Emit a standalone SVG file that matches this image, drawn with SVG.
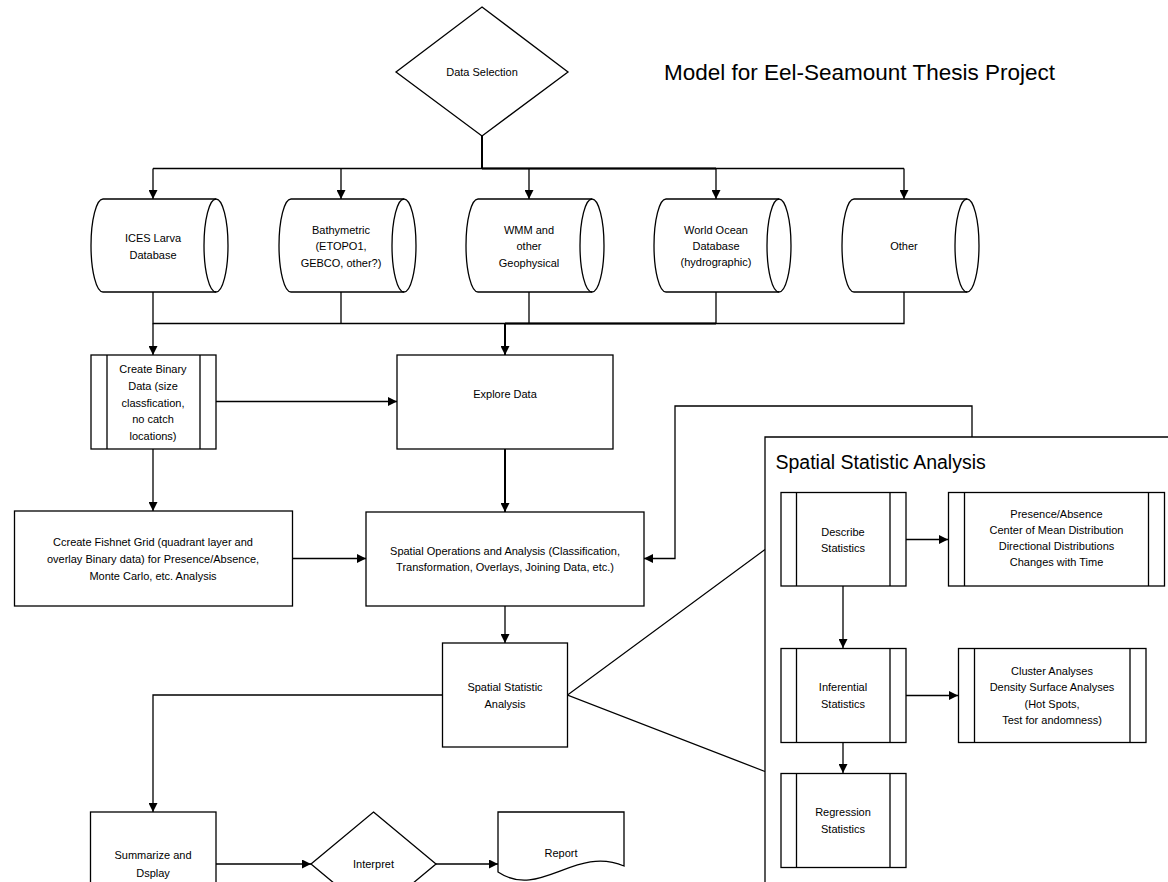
<svg xmlns="http://www.w3.org/2000/svg" width="1168" height="882" viewBox="0 0 1168 882">
<style>
.n{fill:#fff;stroke:#000;stroke-width:1.3}
.l{fill:none;stroke:#000;stroke-width:1.3}
.t{font-family:"Liberation Sans",Arial,sans-serif;font-size:11px;fill:#000;text-anchor:middle}
.c{fill:none;stroke:#000;stroke-width:1.3}
.k{stroke-width:2}
.a{marker-end:url(#ah)}
</style>
<defs>
<marker id="ah" markerUnits="userSpaceOnUse" markerWidth="10" markerHeight="9" refX="9" refY="4.5" orient="auto">
<path d="M0,0 L9,4.5 L0,9 Z" fill="#000"/>
</marker>
</defs>
<rect width="1168" height="882" fill="#fff"/>

<text x="664" y="80" font-family="Liberation Sans,Arial,sans-serif" font-size="22.5" fill="#000">Model for Eel-Seamount Thesis Project</text>

<g id="connectors">
<path class="c k" d="M482,136 V168.5"/>
<path class="c" d="M153,168.5 H904"/>
<path class="c k" d="M482,168.5 H716"/>
<path class="c a" d="M153,168.5 V199"/>
<path class="c a" d="M341,168.5 V199"/>
<path class="c a" d="M529,168.5 V199"/>
<path class="c a" d="M716,168.5 V199"/>
<path class="c a" d="M904,168.5 V199"/>
<path class="c" d="M153,292 V323.5 H904 V292"/>
<path class="c" d="M341,292 V323.5"/>
<path class="c" d="M529,292 V323.5"/>
<path class="c" d="M716,292 V323.5"/>
<path class="c k" d="M505,323.5 H716"/>
<path class="c a" d="M153,323.5 V355"/>
<path class="c k a" d="M505,323.5 V355"/>
<path class="c a" d="M216,401.5 H397"/>
<path class="c k a" d="M505,449 V512"/>
<path class="c a" d="M153,449 V511"/>
<path class="c a" d="M292,558.5 H366"/>
<path class="c a" d="M972,437 V406 H675 V558.5 H644"/>
<path class="c a" d="M505,606 V643"/>
<path class="c a" d="M442.5,695 H153 V812"/>
<path class="c" d="M765,549.5 L567.5,695 L765,771.5"/>
<path class="c a" d="M216,864 H311"/>
<path class="c a" d="M436,864 H498"/>
<path class="c a" d="M906,539.5 H948"/>
<path class="c a" d="M843,586 V648"/>
<path class="c a" d="M906,695.5 H958"/>
<path class="c a" d="M843,742 V773"/>
</g>

<g id="data-selection">
<path class="n" d="M482,7 L568,72 L482,136 L396,72 Z"/>
<text class="t" x="482" y="76">Data Selection</text>
</g>

<g id="ices">
<path class="n" d="M103,199 H216 A12,46.5 0 0 1 216,292 H103 A12,46.5 0 0 1 103,199 Z"/>
<path class="l" d="M216,199 A12,46.5 0 0 0 216,292"/>
<text class="t" x="153" y="241.5">ICES Larva</text>
<text class="t" x="153" y="258.5">Database</text>
</g>

<g id="bathymetric">
<path class="n" d="M291,199 H404 A12,46.5 0 0 1 404,292 H291 A12,46.5 0 0 1 291,199 Z"/>
<path class="l" d="M404,199 A12,46.5 0 0 0 404,292"/>
<text class="t" x="341" y="234">Bathymetric</text>
<text class="t" x="341" y="250">(ETOPO1,</text>
<text class="t" x="341" y="266.5">GEBCO, other?)</text>
</g>

<g id="wmm">
<path class="n" d="M478,199 H592 A12,46.5 0 0 1 592,292 H478 A12,46.5 0 0 1 478,199 Z"/>
<path class="l" d="M592,199 A12,46.5 0 0 0 592,292"/>
<text class="t" x="529" y="234">WMM and</text>
<text class="t" x="529" y="250">other</text>
<text class="t" x="529" y="266.5">Geophysical</text>
</g>

<g id="world-ocean">
<path class="n" d="M666,199 H779 A12,46.5 0 0 1 779,292 H666 A12,46.5 0 0 1 666,199 Z"/>
<path class="l" d="M779,199 A12,46.5 0 0 0 779,292"/>
<text class="t" x="716" y="234">World Ocean</text>
<text class="t" x="716" y="250">Database</text>
<text class="t" x="716" y="266">(hydrographic)</text>
</g>

<g id="other">
<path class="n" d="M854,199 H967 A12,46.5 0 0 1 967,292 H854 A12,46.5 0 0 1 854,199 Z"/>
<path class="l" d="M967,199 A12,46.5 0 0 0 967,292"/>
<text class="t" x="904" y="250">Other</text>
</g>

<g id="create-binary">
<rect class="n" x="91" y="355" width="125" height="94"/>
<path class="l" d="M107,355 V449 M200,355 V449"/>
<text class="t" x="153" y="373">Create Binary</text>
<text class="t" x="153" y="390">Data (size</text>
<text class="t" x="153" y="407">classfication,</text>
<text class="t" x="153" y="423">no catch</text>
<text class="t" x="153" y="440">locations)</text>
</g>

<g id="explore-data">
<rect class="n" x="397" y="355" width="216" height="94"/>
<text class="t" x="505" y="398">Explore Data</text>
</g>

<g id="fishnet">
<rect class="n" x="14.5" y="511" width="278" height="95"/>
<text class="t" x="153" y="546">Ccreate Fishnet Grid (quadrant layer and</text>
<text class="t" x="153" y="563">overlay Binary data) for Presence/Absence,</text>
<text class="t" x="153" y="580">Monte Carlo, etc. Analysis</text>
</g>

<g id="spatial-ops">
<rect class="n" x="366" y="512" width="278" height="94"/>
<text class="t" x="505" y="555">Spatial Operations and Analysis  (Classification,</text>
<text class="t" x="505" y="571">Transformation, Overlays, Joining Data, etc.)</text>
</g>

<g id="spatial-stat">
<rect class="n" x="442.5" y="643" width="125" height="104"/>
<text class="t" x="505" y="690.5">Spatial Statistic</text>
<text class="t" x="505" y="708">Analysis</text>
</g>

<g id="summarize">
<rect class="n" x="90.5" y="812" width="125.5" height="80"/>
<text class="t" x="153" y="858.5">Summarize and</text>
<text class="t" x="153" y="877">Dsplay</text>
</g>

<g id="interpret">
<path class="n" d="M373.5,812 L436,864 L373.5,916 L311,864 Z"/>
<text class="t" x="373.5" y="868">Interpret</text>
</g>

<g id="report">
<path class="n" d="M498,812 H624 V866 C575,845 540,900 498,872 Z"/>
<text class="t" x="561" y="856.5">Report</text>
</g>

<g id="frame">
<path class="l" d="M765,882 V437 H1168"/>
<text x="775.5" y="469" font-family="Liberation Sans,Arial,sans-serif" font-size="19.5" fill="#000">Spatial Statistic Analysis</text>
</g>

<g id="describe">
<rect class="n" x="781" y="492.5" width="125" height="93.5"/>
<path class="l" d="M796.5,492.5 V586 M890,492.5 V586"/>
<text class="t" x="843" y="535.5">Describe</text>
<text class="t" x="843" y="551.5">Statistics</text>
</g>

<g id="presence">
<rect class="n" x="948.5" y="492.5" width="216" height="93.5"/>
<path class="l" d="M964.5,492.5 V586 M1148.5,492.5 V586"/>
<text class="t" x="1056.5" y="518">Presence/Absence</text>
<text class="t" x="1056.5" y="534">Center of Mean Distribution</text>
<text class="t" x="1056.5" y="550">Directional Distributions</text>
<text class="t" x="1056.5" y="566">Changes with Time</text>
</g>

<g id="inferential">
<rect class="n" x="781" y="648.5" width="125" height="94"/>
<path class="l" d="M796.5,648.5 V742.5 M890,648.5 V742.5"/>
<text class="t" x="843" y="691">Inferential</text>
<text class="t" x="843" y="708">Statistics</text>
</g>

<g id="cluster">
<rect class="n" x="958.5" y="648.5" width="187.5" height="94"/>
<path class="l" d="M974.5,648.5 V742.5 M1130,648.5 V742.5"/>
<text class="t" x="1052" y="674.5">Cluster Analyses</text>
<text class="t" x="1052" y="691">Density Surface Analyses</text>
<text class="t" x="1052" y="707.5">(Hot Spots,</text>
<text class="t" x="1052" y="724">Test for andomness)</text>
</g>

<g id="regression">
<rect class="n" x="781" y="773.5" width="125" height="94"/>
<path class="l" d="M796.5,773.5 V867.5 M890,773.5 V867.5"/>
<text class="t" x="843" y="816">Regression</text>
<text class="t" x="843" y="833">Statistics</text>
</g>
</svg>
